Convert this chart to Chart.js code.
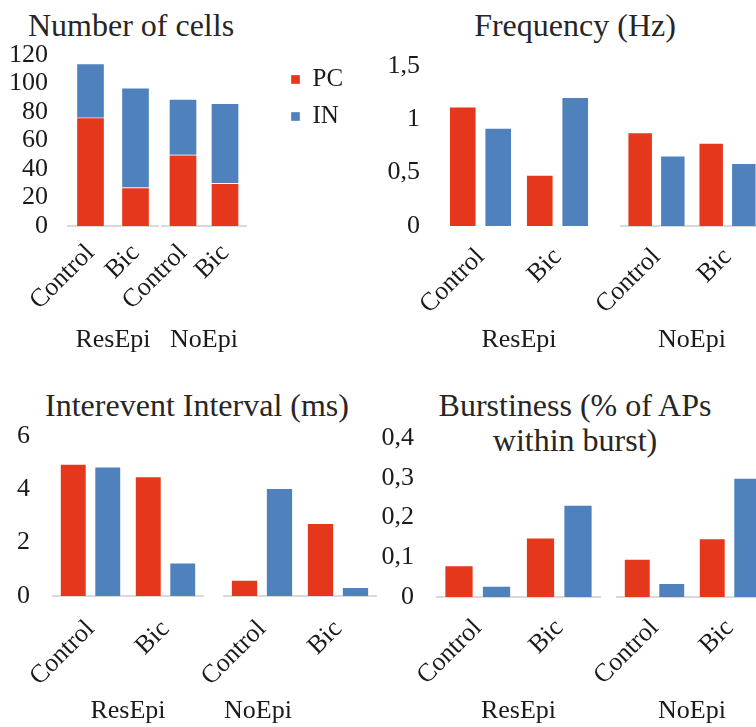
<!DOCTYPE html>
<html><head><meta charset="utf-8">
<script src="https://cdn.jsdelivr.net/npm/chart.js@4/dist/chart.umd.min.js"></script>
<style>
html,body{margin:0;padding:0;background:#fff;width:756px;height:727px;overflow:hidden;position:relative;}
canvas{position:absolute;top:0;}
.ttl{position:absolute;font-family:'Liberation Serif','Times New Roman',serif;font-size:32px;color:#262626;white-space:nowrap;transform:translate(-50%,-50%);line-height:35px;text-align:center;}
</style></head><body>
<div class="ttl" style="left:131px;top:25px">Number of cells</div>
<div class="ttl" style="left:575px;top:25px">Frequency (Hz)</div>
<div class="ttl" style="left:197px;top:405px">Interevent Interval (ms)</div>
<div class="ttl" style="left:575px;top:423px">Burstiness (% of APs<br>within burst)</div>
<script>
// ---- data ----
const groups = ["ResEpi", "NoEpi"];
const categories = ["Control", "Bic"];
const seriesNames = ["PC", "IN"];
// order: ResEpi-Control, ResEpi-Bic, NoEpi-Control, NoEpi-Bic
const cellsPC = [76, 27, 50, 30];
const cellsIN = [38, 70, 39, 56];
const freqPC = [1.12, 0.48, 0.88, 0.78];
const freqIN = [0.92, 1.21, 0.66, 0.59];
const ieiPC = [4.96, 4.49, 0.61, 2.74];
const ieiIN = [4.86, 1.26, 4.05, 0.34];
const burstPC = [0.08, 0.15, 0.096, 0.148];
const burstIN = [0.028, 0.232, 0.035, 0.30];
const cellsTicks = ["0", "20", "40", "60", "80", "100", "120"];
const freqTicks = ["0", "0,5", "1", "1,5"];
const ieiTicks = ["0", "2", "4", "6"];
const burstTicks = ["0", "0,1", "0,2", "0,3", "0,4"];

const RED = '#E5371B', BLUE = '#4F81BD', TXT = '#1a1a1a';
const FONT = "'Liberation Serif','Times New Roman',serif";
const CW = 800, CH = 727;
Chart.defaults.font.family = FONT;
Chart.defaults.color = TXT;

// legend geometry (Chart.js vertical legend width = pad + box + size/2 + text + 10)
const LEG_SIZE = 25, LEG_BOX = 9, LEG_PAD = 12, LEG_GAP = 33;
const mctx = document.createElement('canvas').getContext('2d');
mctx.font = 'normal ' + LEG_SIZE + 'px ' + FONT;
const legTextW = Math.max(...seriesNames.map(s => mctx.measureText(s).width));
const LEG_W = LEG_PAD + LEG_BOX + LEG_SIZE / 2 + legTextW + 10;

function sub(o) {
  const S = o.legend ? 700 : 0;           // canvas shifted left so the layout has room for the legend
  const W = CW + S;
  const cv = document.createElement('canvas');
  cv.width = W; cv.height = CH;
  cv.style.width = W + 'px'; cv.style.height = CH + 'px';
  cv.style.left = (-S) + 'px';
  document.body.appendChild(cv);
  const i0 = o.g * 2;
  const pc = o.pc.slice(i0, i0 + 2), inn = o.inn.slice(i0, i0 + 2);
  const showY = !!o.yTicks;
  const padB = CH - o.b - o.xH;
  const padR = W - (o.r + S) - (o.legend ? LEG_GAP + LEG_W : 0);
  const padL = showY ? o.panelX : (o.legend ? 0 : o.l);
  const ds = (label, data, color) => {
    const d = {label, data, backgroundColor: color, borderColor: 'rgba(255,255,255,0.35)', borderWidth: 1,
      categoryPercentage: 0.92, barPercentage: 0.78};
    if (o.stacked) { d.barThickness = 28; }
    return d;
  };
  const scales = {
    x: {stacked: !!o.stacked, offset: true,
      grid: {display: false, drawTicks: false},
      border: {display: o.baseline !== false, color: '#D9D9D9', width: 2},
      ticks: {font: {size: 26}, color: TXT, minRotation: 45, maxRotation: 45, autoSkip: false, padding: o.tickPad || 16},
      title: {display: true, text: groups[o.g], font: {size: 26}, color: TXT,
        padding: {top: 0, bottom: 0}, align: o.titleAlign || 'center'},
      afterFit: s => { s.height = o.xH; }}
  };
  if (showY) {
    scales.y = {stacked: !!o.stacked, min: 0, max: o.yMax, position: 'left',
      grid: {display: false, drawTicks: false}, border: {display: false},
      ticks: {stepSize: o.yStep, autoSkip: false, font: {size: 26}, color: TXT, padding: o.yPad,
        callback: (v, i) => o.yTicks[i]},
      afterFit: s => { s.width = o.l - o.panelX; }};
  } else if (o.legend) {
    scales.y = {stacked: !!o.stacked, min: 0, max: o.yMax, position: 'left',
      grid: {display: false, drawTicks: false}, border: {display: false},
      ticks: {display: false, stepSize: o.yStep},
      afterFit: s => { s.width = o.l + S; }};
    scales.gap = {type: 'linear', min: 0, max: o.yMax, position: 'right',
      grid: {display: false, drawTicks: false}, border: {display: false},
      ticks: {display: false},
      afterFit: s => { s.width = LEG_GAP; }};
  } else {
    scales.y = {stacked: !!o.stacked, min: 0, max: o.yMax, display: false};
  }
  new Chart(cv, {
    type: 'bar',
    data: {labels: categories, datasets: [ds(seriesNames[0], pc, RED), ds(seriesNames[1], inn, BLUE)]},
    options: {
      responsive: false, animation: false, devicePixelRatio: 1,
      layout: {padding: {left: padL, right: padR, top: o.t, bottom: padB}},
      plugins: {
        legend: o.legend ? {display: true, position: 'right', align: 'start',
          labels: {boxWidth: LEG_BOX, boxHeight: LEG_BOX, padding: LEG_PAD, font: {size: LEG_SIZE}, color: TXT}} : {display: false},
        tooltip: {enabled: false}
      },
      scales
    }
  });
}

// Panel 1: Number of cells (stacked)
sub({g: 0, pc: cellsPC, inn: cellsIN, stacked: true, panelX: 0, l: 68, r: 158, t: 55, b: 226, xH: 130,
  yMax: 120, yStep: 20, yTicks: cellsTicks, yPad: 20, tickPad: 12});
sub({g: 1, pc: cellsPC, inn: cellsIN, stacked: true, l: 162, r: 246, t: 55, b: 226, xH: 130,
  yMax: 120, yStep: 20, legend: true, tickPad: 12});
// Panel 2: Frequency
sub({g: 0, pc: freqPC, inn: freqIN, panelX: 378, l: 442, r: 596, t: 66, b: 226, xH: 130,
  yMax: 1.5, yStep: 0.5, yTicks: freqTicks, yPad: 22, baseline: false});
sub({g: 1, pc: freqPC, inn: freqIN, l: 621, r: 763, t: 66, b: 226, xH: 130, yMax: 1.5, yStep: 0.5});
// Panel 3: Interevent interval
sub({g: 0, pc: ieiPC, inn: ieiIN, panelX: 0, l: 53, r: 203, t: 436, b: 596, xH: 131,
  yMax: 6, yStep: 2, yTicks: ieiTicks, yPad: 23, tickPad: 18});
sub({g: 1, pc: ieiPC, inn: ieiIN, l: 224, r: 376, t: 436, b: 596, xH: 131, yMax: 6, yStep: 2,
  titleAlign: 'start', tickPad: 18});
// Panel 4: Burstiness
sub({g: 0, pc: burstPC, inn: burstIN, panelX: 378, l: 437, r: 600, t: 438, b: 597, xH: 130,
  yMax: 0.4, yStep: 0.1, yTicks: burstTicks, yPad: 23});
sub({g: 1, pc: burstPC, inn: burstIN, l: 617, r: 767, t: 438, b: 597, xH: 130, yMax: 0.4, yStep: 0.1});
</script>
</body></html>
